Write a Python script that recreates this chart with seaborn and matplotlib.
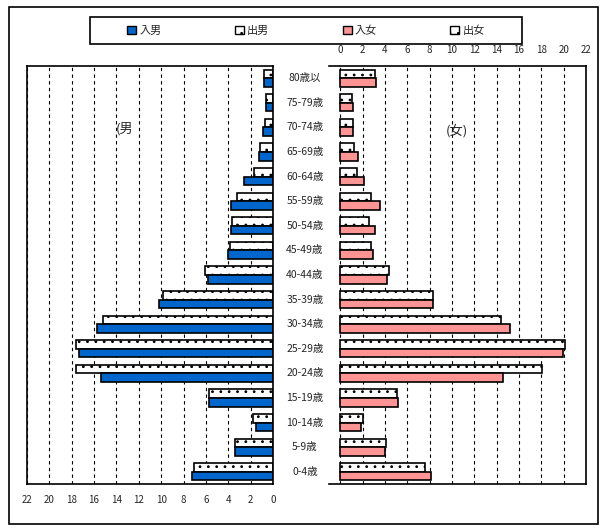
import matplotlib
matplotlib.use("Agg")
import matplotlib.pyplot as plt
import matplotlib.patches as mpatches
from matplotlib.transforms import blended_transform_factory
import pandas as pd
import seaborn as sns

# age groups, top to bottom
ages = ["80歳以", "75-79歳", "70-74歳", "65-69歳", "60-64歳", "55-59歳", "50-54歳",
        "45-49歳", "40-44歳", "35-39歳", "30-34歳", "25-29歳", "20-24歳", "15-19歳",
        "10-14歳", "5-9歳", "0-4歳"]

in_male = [0.8, 0.6, 0.87, 1.22, 2.57, 3.73, 3.76, 4.02, 5.81, 10.2, 15.74, 17.35,
           15.38, 5.7, 1.52, 3.4, 7.26]
out_male = [0.78, 0.6, 0.7, 1.13, 1.67, 3.19, 3.67, 3.85, 6.08, 9.84, 15.2, 17.62,
            17.62, 5.7, 1.79, 3.4, 7.08]
in_female = [3.25, 1.18, 1.18, 1.64, 2.09, 3.52, 3.08, 2.98, 4.15, 8.27, 15.24, 19.9,
             14.6, 5.19, 1.88, 4.02, 8.14]
out_female = [3.15, 1.1, 1.18, 1.28, 1.55, 2.72, 2.6, 2.72, 4.33, 8.35, 14.35, 20.16,
              18.1, 5.1, 2.06, 4.11, 7.6]

ticks = list(range(0, 23, 2))

sns.set_style("white")
plt.rcParams["font.family"] = ["Noto Sans CJK JP", "DejaVu Sans"]
plt.rcParams["hatch.linewidth"] = 0.8

BLUE = "#0066cc"
PINK = "#ff9494"


def long_df(outs, ins, out_name, in_name):
    return pd.DataFrame({
        "age": ages * 2,
        "value": outs + ins,
        "series": [out_name] * len(ages) + [in_name] * len(ages),
    })


df_m = long_df(out_male, in_male, "出男", "入男")
df_f = long_df(out_female, in_female, "出女", "入女")

fig = plt.figure(figsize=(6.07, 5.31), dpi=100)
W, H = 607, 531


def rect(x0, y0, x1, y1):
    return [x0 / W, (H - y1) / H, (x1 - x0) / W, (y1 - y0) / H]


axL = fig.add_axes(rect(27, 66, 273, 484))
axR = fig.add_axes(rect(329, 66, 586, 484))

sns.barplot(data=df_m, y="age", x="value", hue="series", hue_order=["出男", "入男"],
            orient="h", width=0.7, ax=axL, legend=False, saturation=1)
sns.barplot(data=df_f, y="age", x="value", hue="series", hue_order=["出女", "入女"],
            orient="h", width=0.7, ax=axR, legend=False, saturation=1)


def style_bars(ax, in_color):
    for bar in ax.containers[0]:
        bar.set_facecolor("white")
        bar.set_edgecolor("black")
        bar.set_hatch("..")
        bar.set_linewidth(1.2)
    for bar in ax.containers[1]:
        bar.set_facecolor(in_color)
        bar.set_edgecolor("black")
        bar.set_linewidth(1.2)


style_bars(axL, BLUE)
style_bars(axR, PINK)

for ax in (axL, axR):
    ax.set_ylim(len(ages) - 0.5, -0.5)
    ax.set_yticks([])
    ax.set_xlabel("")
    ax.set_ylabel("")
    ax.set_xticks(ticks)
    ax.set_xticklabels([str(t) for t in ticks], fontsize=7)
    ax.tick_params(axis="x", length=0)
    ax.grid(axis="x", color="black", linestyle=(0, (3, 3)), linewidth=0.8)
    ax.set_axisbelow(True)
    for s in ax.spines.values():
        s.set_color("black")
        s.set_linewidth(1.2)

axL.set_xlim(22, 0)
axL.tick_params(axis="x", pad=8)

axR.set_xlim(-1, 22)
axR.xaxis.tick_top()
axR.tick_params(axis="x", pad=8, top=True, bottom=False, labeltop=True, labelbottom=False)
axR.spines["left"].set_visible(False)

# age labels between the two panels
tr = blended_transform_factory(fig.transFigure, axR.transData)
for i, a in enumerate(ages):
    axR.text(305 / W, i, a, transform=tr, ha="center", va="center", fontsize=7.5,
             clip_on=False)

fig.text(116 / W, 1 - 129 / H, "(男", fontsize=9.5, ha="left", va="center")
fig.text(446 / W, 1 - 131 / H, "(女)", fontsize=9.5, ha="left", va="center")

# outer frame and legend box
fig.patches.append(mpatches.Rectangle((9 / W, 1 - 524 / H), 589 / W, 517 / H,
                                      transform=fig.transFigure, fill=False,
                                      edgecolor="black", linewidth=1.2))
fig.patches.append(mpatches.Rectangle((90 / W, 1 - 44 / H), 432 / W, 27 / H,
                                      transform=fig.transFigure, fill=False,
                                      edgecolor="black", linewidth=1.2))

handles = [
    mpatches.Patch(facecolor=BLUE, edgecolor="black", label="入男"),
    mpatches.Patch(facecolor="white", edgecolor="black", hatch="..", label="出男"),
    mpatches.Patch(facecolor=PINK, edgecolor="black", label="入女"),
    mpatches.Patch(facecolor="white", edgecolor="black", hatch="..", label="出女"),
]
fig.legend(handles=handles, loc="center", bbox_to_anchor=(306 / W, 1 - 30.5 / H),
           ncol=4, frameon=False, fontsize=8, handlelength=0.8, handleheight=0.8,
           handletextpad=0.3, columnspacing=6.6)

fig.savefig("out.png", dpi=100)
